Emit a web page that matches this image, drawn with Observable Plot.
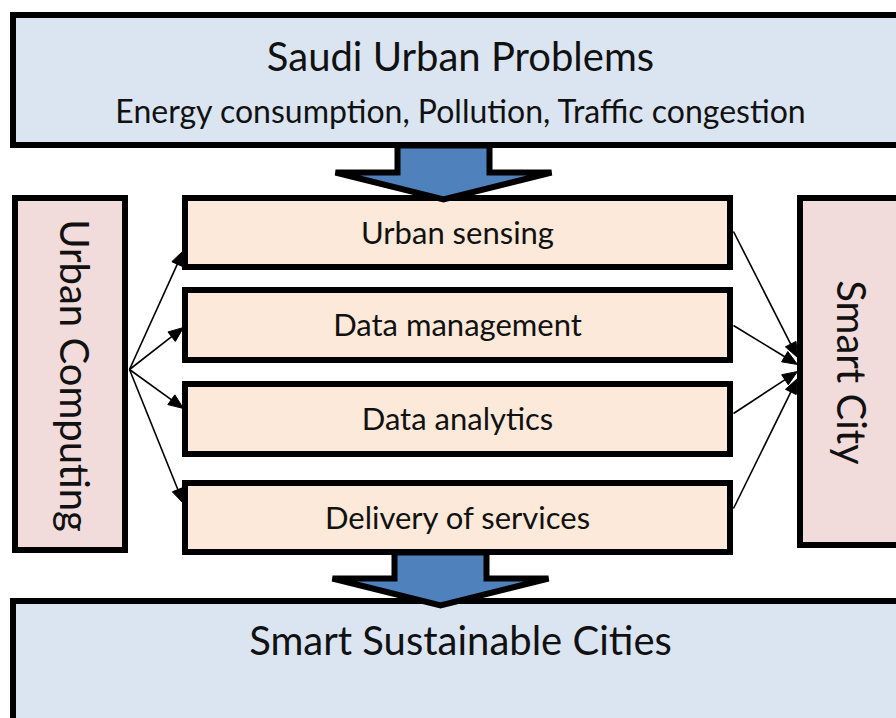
<!DOCTYPE html>
<html>
<head>
<meta charset="utf-8">
<script src="https://cdn.jsdelivr.net/npm/d3@7"></script>
<script src="https://cdn.jsdelivr.net/npm/@observablehq/plot@0.6"></script>
<style>
  html, body { margin: 0; padding: 0; background: #fff; overflow: hidden; }
  #chart svg { display: block; overflow: hidden; }
</style>
</head>
<body>
<div id="chart"></div>
<script>
// ---- content (labels) ----
const problemTitle = "Saudi Urban Problems";
const problemItems = ["Energy consumption", "Pollution", "Traffic congestion"];
const stages = ["Urban sensing", "Data management", "Data analytics", "Delivery of services"];
const sourceLabel = "Urban Computing";
const targetLabel = "Smart City";
const outcomeLabel = "Smart Sustainable Cities";

// ---- layout (pixel space of the 896x718 diagram) ----
const stageTop    = [198, 290, 384, 483];
const stageBottom = [267, 360, 454, 552];
const leftArrowEndY   = [250, 327, 408, 503];
const rightArrowStartY = [231, 325, 413, 508];
const rightArrowEndY   = [357, 364, 371, 378];

const colors = {
  blueBox: "#dbe5f1",
  pinkBox: "#f2dcdb",
  peachBox: "#fde9d9",
  blockArrow: "#4f81bd",
  ink: "#111111"
};

// boxes
const boxes = [
  {x1: 13, x2: 910, y1: 15, y2: 145, fill: colors.blueBox},
  {x1: 15, x2: 125, y1: 198, y2: 550, fill: colors.pinkBox},
  {x1: 800, x2: 910, y1: 198, y2: 545, fill: colors.pinkBox},
  {x1: 13, x2: 910, y1: 601, y2: 740, fill: colors.blueBox},
  ...stages.map((s, i) => ({x1: 185, x2: 730, y1: stageTop[i], y2: stageBottom[i], fill: colors.peachBox}))
];

// block arrows (down)
function blockArrow(id, cx, top, shaftHalf, wingY, wingHalf, tipY) {
  return [
    [cx - shaftHalf, top], [cx - shaftHalf, wingY], [cx - wingHalf, wingY],
    [cx, tipY], [cx + wingHalf, wingY], [cx + shaftHalf, wingY],
    [cx + shaftHalf, top], [cx - shaftHalf, top]
  ].map(([x, y]) => ({id, x, y}));
}
const blockArrows = [
  ...blockArrow("a1", 443, 145, 46, 172, 108, 199),
  ...blockArrow("a2", 440, 552, 46, 578, 108, 605)
];

// thin connector arrows
const connectors = [
  ...leftArrowEndY.map((y, i) => ({id: "L" + i, x1: 129, y1: 369, x2: 183, y2: y})),
  ...rightArrowStartY.map((y, i) => ({id: "R" + i, x1: 733, y1: y, x2: 797, y2: rightArrowEndY[i]}))
];
const headLen = 15, headWidth = 12;
const shafts = [], heads = [];
for (const c of connectors) {
  const dx = c.x2 - c.x1, dy = c.y2 - c.y1, len = Math.hypot(dx, dy);
  const ux = dx / len, uy = dy / len, nx = -uy, ny = ux;
  const bx = c.x2 - ux * headLen, by = c.y2 - uy * headLen;
  shafts.push({x1: c.x1, y1: c.y1, x2: bx + ux * 2, y2: by + uy * 2});
  heads.push(
    {id: c.id, x: c.x2, y: c.y2},
    {id: c.id, x: bx + nx * headWidth / 2, y: by + ny * headWidth / 2},
    {id: c.id, x: bx - nx * headWidth / 2, y: by - ny * headWidth / 2},
    {id: c.id, x: c.x2, y: c.y2}
  );
}

// texts
const texts = [
  {label: problemTitle, x: 460, y: 58, size: 40, rotate: 0},
  {label: problemItems.join(", "), x: 460, y: 112, size: 32, rotate: 0},
  ...stages.map((s, i) => ({label: s, x: 457, y: (stageTop[i] + stageBottom[i]) / 2 + 1, size: 31, rotate: 0})),
  {label: sourceLabel, x: 72, y: 375, size: 40, rotate: 90},
  {label: targetLabel, x: 849, y: 372, size: 40, rotate: 90},
  {label: outcomeLabel, x: 460, y: 642, size: 40, rotate: 0}
];

const chart = Plot.plot({
  width: 896,
  height: 718,
  margin: 0,
  style: {fontFamily: "Lato, 'Open Sans', sans-serif", background: "#fff", overflow: "hidden"},
  x: {type: "linear", domain: [0, 896], range: [0, 896], axis: null},
  y: {type: "linear", domain: [0, 718], range: [0, 718], axis: null},
  marks: [
    Plot.rect(boxes, {x1: "x1", x2: "x2", y1: "y1", y2: "y2", fill: "fill", stroke: "#000", strokeWidth: 6}),
    Plot.link(shafts, {x1: "x1", y1: "y1", x2: "x2", y2: "y2", stroke: "#000", strokeWidth: 1.6}),
    Plot.line(heads, {x: "x", y: "y", z: "id", fill: "#000", stroke: "#000", strokeWidth: 1, curve: "linear"}),
    Plot.line(blockArrows, {x: "x", y: "y", z: "id", fill: colors.blockArrow, stroke: "#000", strokeWidth: 6, strokeLinejoin: "miter", strokeMiterlimit: 3, curve: "linear"}),
    ...texts.map(t => Plot.text([t], {x: "x", y: "y", text: "label", fontSize: t.size, rotate: t.rotate, fill: colors.ink, textAnchor: "middle", lineAnchor: "middle"}))
  ]
});
document.getElementById("chart").appendChild(chart);
</script>
</body>
</html>
